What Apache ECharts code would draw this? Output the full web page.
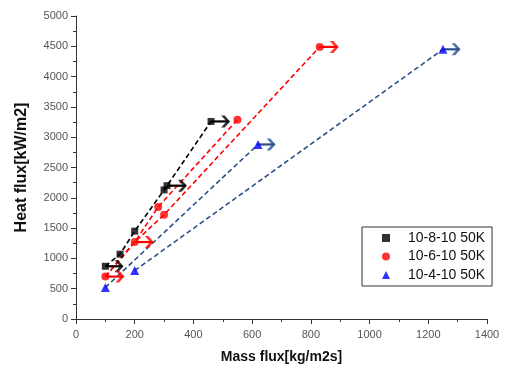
<!DOCTYPE html>
<html><head><meta charset="utf-8">
<script src="https://cdn.jsdelivr.net/npm/echarts@6/dist/echarts.min.js"></script>
<style>html,body{margin:0;padding:0;background:#fff}#c{width:505px;height:369px}</style>
</head><body><div id="c"></div>
<script>
// ---- data ----
const names = ['10-8-10 50K', '10-6-10 50K', '10-4-10 50K'];
const xTicks = [0, 200, 400, 600, 800, 1000, 1200, 1400];
const yTicks = [0, 500, 1000, 1500, 2000, 2500, 3000, 3500, 4000, 4500, 5000];

const blackPts = [[100, 870], [150, 1070], [200, 1450], [300, 2130], [310, 2200], [460, 3260]];
const redPts = [[100, 700], [200, 1270], [280, 1850], [300, 1720], [550, 3290], [830, 4490]];
const bluePts = [[100, 520], [200, 800], [620, 2880], [1250, 4450]];

const blackLines = [[[100, 870], [150, 1070], [200, 1450], [300, 2130], [310, 2200], [460, 3260]]];
const redLines = [
  [[100, 700], [200, 1270], [280, 1850], [550, 3290]],
  [[100, 700], [200, 1270], [300, 1720], [830, 4490]]
];
const blueLines = [
  [[100, 520], [620, 2880]],
  [[200, 800], [1250, 4450]]
];
// arrows: [x start, x tip, y]
const blackArrows = [[100, 162, 870], [310, 378, 2200], [460, 525, 3260]];
const redArrows = [[100, 165, 700], [200, 265, 1270], [830, 895, 4490]];
const blueArrows = [[620, 680, 2880], [1250, 1310, 4450]];

// ---- chart ----
const C_BLACK = '#000000', C_RED = '#ff0000', C_BLUE_PT = '#0000ff', C_BLUE_LN = '#2b5088';
const chevron = 'path://M0,0 L4,0 L10,6 L4,12 L0,12 L6,6 Z';
const series = [];
function addLines(lines, color) {
  lines.forEach(l => series.push({
    type: 'line', data: l, showSymbol: false, symbol: 'none', silent: true, z: 2,
    lineStyle: { color: color, width: 1.6, type: [5, 3] }
  }));
}
function addArrows(arr, color) {
  arr.forEach(a => series.push({
    type: 'line', data: [[a[0], a[2]], [a[1] - 4, a[2]]], showSymbol: false, symbol: 'none', silent: true, z: 3,
    lineStyle: { color: color, width: 2.2, type: 'solid' }
  }));
  series.push({
    type: 'scatter', data: arr.map(a => [a[1], a[2]]), symbol: chevron, symbolSize: [9, 12],
    symbolOffset: ['-50%', 0], itemStyle: { color: color }, z: 4, silent: true
  });
}
addLines(blackLines, C_BLACK);
addLines(redLines, C_RED);
addLines(blueLines, C_BLUE_LN);
addArrows(blackArrows, C_BLACK);
addArrows(redArrows, C_RED);
addArrows(blueArrows, C_BLUE_LN);
series.push({ name: names[0], type: 'scatter', data: blackPts, symbol: 'rect', symbolSize: 7, itemStyle: { color: C_BLACK }, z: 5 });
series.push({ name: names[1], type: 'scatter', data: redPts, symbol: 'circle', symbolSize: 8, itemStyle: { color: C_RED }, z: 5 });
series.push({ name: names[2], type: 'scatter', data: bluePts, symbol: 'triangle', symbolSize: 9, itemStyle: { color: C_BLUE_PT }, z: 5 });

const chart = echarts.init(document.getElementById('c'), null, { renderer: 'canvas' });
const plain = v => String(v);
const axisCommon = {
  axisLine: { show: true, onZero: false, lineStyle: { color: '#333', width: 1 } },
  axisTick: { show: true, length: 5, lineStyle: { color: '#333' } },
  minorTick: { show: true, splitNumber: 2, length: 3, lineStyle: { color: '#333' } },
  splitLine: { show: false },
  nameLocation: 'middle',
  nameTextStyle: { fontFamily: 'Liberation Sans, Arial', fontWeight: 'bold', color: '#111' }
};
chart.setOption({
  animation: false,
  backgroundColor: '#fff',
  grid: { left: 76, right: 18, top: 16, bottom: 50 },
  xAxis: Object.assign({}, axisCommon, {
    type: 'value', min: xTicks[0], max: xTicks[xTicks.length - 1], interval: xTicks[1] - xTicks[0],
    name: 'Mass flux[kg/m2s]', nameGap: 31,
    nameTextStyle: Object.assign({}, axisCommon.nameTextStyle, { fontSize: 14 }),
    axisLabel: { margin: 10, fontSize: 11, color: '#555', fontFamily: 'Liberation Sans, Arial', formatter: plain }
  }),
  yAxis: Object.assign({}, axisCommon, {
    type: 'value', min: yTicks[0], max: yTicks[yTicks.length - 1], interval: yTicks[1] - yTicks[0],
    name: 'Heat flux[kW/m2]', nameGap: 46,
    nameTextStyle: Object.assign({}, axisCommon.nameTextStyle, { fontSize: 16 }),
    axisLabel: { margin: 8, fontSize: 11, color: '#555', fontFamily: 'Liberation Sans, Arial', formatter: plain }
  }),
  legend: {
    data: names, orient: 'vertical', left: 362, top: 227,
    padding: [4, 7, 4, 20], itemGap: 4.5, itemWidth: 8, itemHeight: 8,
    borderColor: '#333', borderWidth: 1, backgroundColor: '#fff',
    textStyle: { fontSize: 14, lineHeight: 14, color: '#111', fontFamily: 'Liberation Sans, Arial', padding: [0, 0, 0, 13] }
  },
  series: series
});
</script></body></html>
